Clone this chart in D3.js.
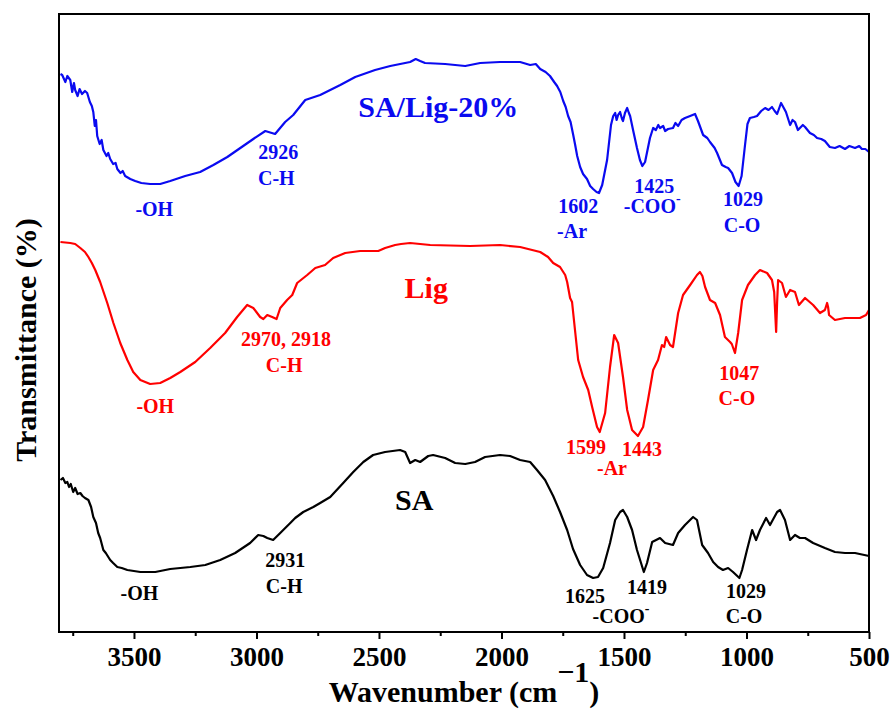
<!DOCTYPE html>
<html lang="en">
<head>
    <meta charset="UTF-8">
    <title>FTIR spectra</title>
    <style>
        body {
            background-color: #ffffff;
            margin: 0;
            overflow: hidden;
        }
        svg text {
            font-family: "Liberation Serif", "Times New Roman", serif;
            font-weight: bold;
        }
    </style>
</head>
<body>
    <svg id="chart"></svg>

    <script src="https://d3js.org/d3.v7.min.js"></script>
    <script>
        // x ticks (cm-1)
        const majorTicks = [3500, 3000, 2500, 2000, 1500, 1000, 500];
        const minorTicks = [3750, 3250, 2750, 2250, 1750, 1250, 750];

        // spectra: [wavenumber, transmittance (a.u., offset)]
        const spectrumComposite = [
            [3800, 55.8], [3793, 55.7], [3780, 55.0], [3772, 55.6], [3760, 55.2], [3752, 54.0], [3745, 54.9],
            [3740, 54.2], [3730, 53.6], [3722, 54.3], [3712, 53.8], [3700, 54.1], [3691, 53.9], [3680, 53.0],
            [3672, 52.6], [3666, 52.0], [3660, 50.6], [3655, 51.2], [3650, 49.6], [3640, 48.8], [3632, 49.2],
            [3625, 48.2], [3612, 47.6], [3605, 47.9], [3597, 47.3], [3585, 46.8], [3575, 46.9], [3568, 46.3],
            [3555, 45.9], [3546, 46.1], [3536, 45.6], [3515, 45.3], [3495, 45.1], [3470, 44.9], [3434, 44.8],
            [3393, 44.8], [3352, 45.1], [3291, 45.6], [3230, 46.0], [3176, 46.7], [3119, 47.5], [3066, 48.4],
            [3013, 49.3], [2964, 50.1], [2924, 49.8], [2883, 51.0], [2850, 51.7], [2801, 53.2], [2740, 53.7],
            [2658, 54.7], [2597, 55.5], [2516, 56.2], [2454, 56.6], [2373, 57.0], [2350, 57.3], [2332, 57.1],
            [2312, 56.9], [2230, 56.8], [2148, 56.6], [2087, 56.9], [2006, 57.0], [1924, 57.0], [1883, 56.7],
            [1860, 56.8], [1842, 56.3], [1820, 56.0], [1802, 55.6], [1785, 55.0], [1773, 54.6], [1760, 54.0],
            [1748, 53.1], [1738, 52.5], [1728, 51.6], [1718, 51.0], [1708, 49.8], [1700, 48.8], [1691, 47.6],
            [1679, 46.5], [1667, 45.8], [1651, 45.3], [1638, 44.6], [1626, 44.3], [1612, 44.0], [1602, 43.9],
            [1589, 44.7], [1569, 47.2], [1553, 50.7], [1544, 51.6], [1536, 51.9], [1530, 51.2], [1524, 51.7],
            [1516, 52.0], [1508, 51.3], [1504, 51.1], [1496, 51.9], [1487, 52.4], [1480, 51.9], [1475, 51.6],
            [1463, 50.2], [1447, 48.4], [1435, 47.2], [1425, 46.6], [1414, 47.0], [1394, 49.4], [1381, 50.4],
            [1370, 50.2], [1360, 50.7], [1353, 50.4], [1340, 50.6], [1332, 50.1], [1320, 50.3], [1300, 50.4],
            [1290, 50.9], [1279, 50.6], [1265, 51.2], [1251, 51.4], [1230, 51.6], [1210, 51.8], [1198, 51.1],
            [1177, 49.7], [1160, 49.4], [1149, 49.0], [1130, 48.4], [1120, 47.9], [1100, 46.7], [1085, 46.5],
            [1075, 46.4], [1059, 45.9], [1045, 45.0], [1032, 44.6], [1020, 45.6], [1006, 48.7], [996, 50.8],
            [986, 51.4], [970, 51.5], [957, 51.6], [940, 52.1], [924, 52.4], [910, 52.2], [896, 52.5],
            [885, 52.1], [875, 51.8], [859, 52.9], [850, 52.5], [839, 52.0], [822, 50.7], [812, 51.2],
            [802, 51.0], [790, 50.2], [782, 50.4], [770, 50.7], [761, 50.5], [741, 49.9], [725, 49.7],
            [712, 49.4], [695, 49.3], [680, 49.1], [660, 48.5], [639, 48.4], [620, 48.6], [598, 48.3],
            [580, 48.6], [557, 48.4], [540, 48.6], [529, 48.3], [515, 48.3], [500, 48.0]
        ];

        const spectrumLig = [
            [3800, 39.0], [3760, 38.9], [3740, 38.8], [3719, 38.4], [3700, 38.0], [3686, 37.5], [3672, 36.9],
            [3658, 36.2], [3638, 35.0], [3609, 32.9], [3584, 30.9], [3556, 28.9], [3527, 27.2], [3503, 26.0],
            [3474, 25.2], [3434, 24.8], [3393, 24.9], [3352, 25.4], [3311, 26.0], [3250, 27.0], [3189, 28.4],
            [3128, 29.9], [3079, 31.5], [3038, 32.7], [3013, 32.4], [2985, 31.5], [2972, 31.3], [2956, 31.7],
            [2936, 31.5], [2918, 31.3], [2903, 32.4], [2875, 33.2], [2854, 33.7], [2834, 34.9], [2793, 35.7],
            [2760, 36.4], [2720, 36.7], [2687, 37.4], [2638, 37.9], [2577, 38.1], [2503, 38.1], [2475, 38.4],
            [2434, 38.7], [2410, 38.8], [2373, 38.9], [2291, 38.7], [2128, 38.6], [2006, 38.7], [1924, 38.5],
            [1842, 38.0], [1810, 37.5], [1789, 36.9], [1761, 36.5], [1740, 35.7], [1732, 35.0], [1720, 33.4],
            [1712, 33.0], [1700, 30.2], [1687, 27.2], [1667, 25.5], [1646, 24.2], [1630, 22.5], [1610, 20.5],
            [1599, 20.0], [1577, 21.9], [1557, 26.5], [1540, 29.7], [1524, 28.9], [1504, 25.5], [1487, 22.2],
            [1467, 20.2], [1443, 19.6], [1422, 20.5], [1402, 23.2], [1381, 26.2], [1361, 27.2], [1345, 28.7],
            [1336, 28.5], [1328, 29.5], [1312, 28.7], [1300, 28.5], [1279, 31.9], [1259, 33.7], [1230, 34.7],
            [1202, 35.7], [1190, 36.0], [1180, 35.6], [1169, 34.5], [1149, 33.2], [1128, 32.9], [1108, 31.7],
            [1088, 29.5], [1067, 29.0], [1060, 28.8], [1047, 27.9], [1034, 29.9], [1018, 33.2], [994, 34.7],
            [965, 35.7], [945, 36.2], [916, 35.9], [896, 35.2], [887, 34.0], [884, 32.5], [879, 30.0],
            [875, 33.0], [871, 35.2], [855, 34.9], [839, 33.5], [822, 34.2], [802, 34.0], [786, 32.7],
            [761, 33.4], [728, 32.7], [700, 31.9], [680, 32.2], [671, 32.9], [667, 32.5], [663, 31.7],
            [639, 31.2], [598, 31.4], [537, 31.4], [512, 31.7], [500, 32.2]
        ];

        const spectrumSA = [
            [3800, 15.2], [3790, 15.4], [3780, 14.9], [3772, 15.0], [3765, 14.5], [3758, 14.8], [3748, 14.0],
            [3740, 14.4], [3730, 13.8], [3719, 13.9], [3710, 13.6], [3700, 13.4], [3686, 13.2], [3675, 12.5],
            [3666, 11.5], [3655, 10.9], [3646, 9.9], [3638, 9.4], [3625, 8.2], [3615, 7.9], [3597, 7.2],
            [3585, 6.9], [3568, 6.5], [3550, 6.4], [3527, 6.2], [3474, 6.0], [3413, 6.0], [3352, 6.3],
            [3270, 6.5], [3209, 6.7], [3148, 7.2], [3087, 7.9], [3026, 8.9], [2993, 9.7], [2972, 9.6],
            [2956, 9.4], [2932, 9.2], [2903, 9.9], [2862, 10.9], [2842, 11.4], [2809, 12.0], [2768, 12.5],
            [2740, 12.9], [2699, 13.5], [2646, 14.9], [2605, 16.0], [2564, 17.0], [2524, 17.7], [2475, 18.0],
            [2414, 18.2], [2393, 18.0], [2373, 16.9], [2352, 17.2], [2332, 17.0], [2299, 17.6], [2279, 17.7],
            [2230, 17.4], [2189, 16.9], [2148, 16.8], [2108, 17.0], [2067, 17.5], [2006, 17.7], [1965, 17.6],
            [1924, 17.2], [1883, 17.0], [1855, 16.2], [1822, 15.2], [1789, 13.6], [1761, 12.0], [1732, 10.2],
            [1708, 8.3], [1679, 6.7], [1651, 5.7], [1626, 5.4], [1606, 5.5], [1585, 6.4], [1557, 8.9],
            [1536, 11.2], [1516, 12.0], [1504, 12.2], [1487, 11.5], [1467, 10.2], [1447, 8.2], [1419, 6.0],
            [1406, 6.9], [1385, 9.0], [1353, 9.4], [1332, 8.9], [1300, 8.7], [1279, 9.9], [1251, 10.7],
            [1218, 11.5], [1202, 11.2], [1181, 8.7], [1157, 7.9], [1136, 7.0], [1116, 6.5], [1096, 6.2],
            [1075, 6.4], [1055, 6.0], [1029, 5.4], [1018, 6.2], [998, 8.2], [977, 10.2], [961, 9.2],
            [945, 10.2], [920, 11.4], [904, 10.7], [875, 12.0], [863, 12.2], [843, 11.2], [822, 9.2],
            [802, 9.7], [782, 9.4], [761, 9.4], [728, 8.9], [680, 8.4], [639, 8.0], [598, 7.9],
            [557, 7.9], [500, 7.6]
        ];

        // peak labels: [text, wavenumber, transmittance, superscript, size]
        const labelsComposite = [
            ["SA/Lig-20%", 2258, 51.5, "", 30],
            ["2926", 2911, 47.3, "", 20], ["C-H", 2919, 44.7, "", 20],
            ["-OH", 3417, 41.6, "", 20],
            ["1602", 1687, 41.9, "", 20], ["-Ar", 1712, 39.4, "", 20],
            ["1425", 1377, 43.9, "", 20], ["-COO", 1385, 41.9, "-", 20],
            ["1029", 1014, 42.6, "", 20], ["C-O", 1018, 40.0, "", 20]
        ];
        const labelsLig = [
            ["Lig", 2307, 33.4, "", 30],
            ["-OH", 3413, 21.9, "", 20],
            ["2970, 2918", 2879, 28.6, "", 20], ["C-H", 2887, 26.0, "", 20],
            ["1599", 1655, 17.8, "", 20], ["1443", 1426, 17.6, "", 20], ["-Ar", 1549, 15.7, "", 20],
            ["1047", 1030, 25.2, "", 20], ["C-O", 1039, 22.7, "", 20]
        ];
        const labelsSA = [
            ["SA", 2356, 12.2, "", 30],
            ["-OH", 3478, 3.2, "", 20],
            ["2931", 2883, 6.5, "", 20], ["C-H", 2887, 3.9, "", 20],
            ["1625", 1659, 2.9, "", 20], ["-COO", 1512, 0.9, "-", 20], ["1419", 1406, 3.8, "", 20],
            ["1029", 1002, 3.4, "", 20], ["C-O", 1010, 0.9, "", 20]
        ];

        const series = [
            { data: spectrumComposite, labels: labelsComposite, color: "#0a0af0" },
            { data: spectrumLig, labels: labelsLig, color: "#ff0000" },
            { data: spectrumSA, labels: labelsSA, color: "#000000" }
        ];

        const W = 891, H = 713;
        const margin = { top: 14, right: 22, bottom: 81, left: 59 },
              width = W - margin.left - margin.right,
              height = H - margin.top - margin.bottom;

        const svg = d3.select("#chart")
            .attr("width", W)
            .attr("height", H)
            .append("g")
            .attr("transform", `translate(${margin.left},${margin.top})`);

        // reversed wavenumber axis
        const x = d3.scaleLinear().domain([3806, 500]).range([0, width]);
        const y = d3.scaleLinear().domain([0, 61.8]).range([height, 0]);

        // major ticks with labels
        const xAxis = svg.append("g")
            .attr("transform", `translate(0,${height})`)
            .call(d3.axisBottom(x).tickValues(majorTicks).tickSize(7).tickPadding(8).tickFormat(d3.format("d")));
        xAxis.select(".domain").remove();
        xAxis.selectAll("line").attr("stroke", "#000").attr("stroke-width", 2);
        xAxis.selectAll("text")
            .attr("fill", "#000")
            .style("font-size", "27px");

        // minor ticks
        const xMinor = svg.append("g")
            .attr("transform", `translate(0,${height})`)
            .call(d3.axisBottom(x).tickValues(minorTicks).tickSize(4).tickFormat(""));
        xMinor.select(".domain").remove();
        xMinor.selectAll("line").attr("stroke", "#000").attr("stroke-width", 2);

        // spectra
        const line = d3.line()
            .x(d => x(d[0]))
            .y(d => y(d[1]));

        series.forEach(s => {
            svg.append("path")
                .datum(s.data)
                .attr("fill", "none")
                .attr("stroke", s.color)
                .attr("stroke-width", 2.2)
                .attr("stroke-linejoin", "round")
                .attr("d", line);

            s.labels.forEach(l => {
                const t = svg.append("text")
                    .attr("x", x(l[1]))
                    .attr("y", y(l[2]))
                    .attr("text-anchor", "middle")
                    .attr("fill", s.color)
                    .style("font-size", l[4] + "px")
                    .text(l[0]);
                if (l[3]) {
                    t.append("tspan")
                        .attr("dy", -10)
                        .style("font-size", "14px")
                        .text(l[3]);
                }
            });
        });

        // frame
        svg.append("rect")
            .attr("x", 0)
            .attr("y", 0)
            .attr("width", width)
            .attr("height", height)
            .attr("fill", "none")
            .attr("stroke", "#000")
            .attr("stroke-width", 2);

        // axis titles
        const xTitle = svg.append("text")
            .attr("x", width / 2)
            .attr("y", height + 70)
            .attr("text-anchor", "middle")
            .style("font-size", "30px")
            .text("Wavenumber (cm");
        xTitle.append("tspan").attr("dy", -20).text("\u22121");
        xTitle.append("tspan").attr("dy", 20).text(")");

        svg.append("text")
            .attr("transform", `translate(${36 - margin.left},${340 - margin.top}) rotate(-90)`)
            .attr("text-anchor", "middle")
            .style("font-size", "30px")
            .text("Transmittance (%)");
    </script>
</body>
</html>
